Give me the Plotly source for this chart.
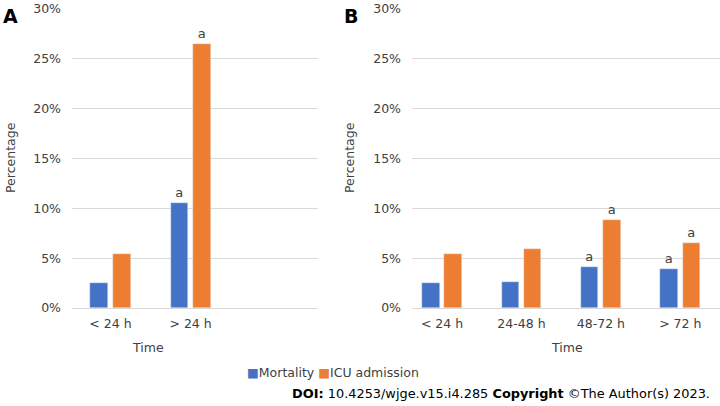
import plotly.graph_objects as go

# ---- data ----
cats_a = ["< 24 h", "> 24 h"]
mort_a = [0.025, 0.105]
icu_a = [0.054, 0.265]
mort_a_sig = ["", "a"]
icu_a_sig = ["", "a"]

cats_b = ["< 24 h", "24-48 h", "48-72 h", "> 72 h"]
mort_b = [0.025, 0.026, 0.0415, 0.039]
icu_b = [0.054, 0.059, 0.0885, 0.065]
mort_b_sig = ["", "", "a", "a"]
icu_b_sig = ["", "", "a", "a"]

yticks = [0, 0.05, 0.10, 0.15, 0.20, 0.25, 0.30]

BLUE = "#4472C4"
ORANGE = "#ED7D31"
TXT = "#404040"
FONT = "DejaVu Sans"
W, H = 720, 406

fig = go.Figure()

def add_bars(cats, mort, icu, msig, isig, xa, ya):
    fig.add_trace(go.Bar(x=cats, y=mort, name="Mortality", marker_color=BLUE,
                         width=0.22, offset=-0.25, text=msig, textposition="outside",
                         textfont=dict(color=TXT, size=13, family=FONT),
                         cliponaxis=False, xaxis=xa, yaxis=ya, showlegend=False))
    fig.add_trace(go.Bar(x=cats, y=icu, name="ICU admission", marker_color=ORANGE,
                         width=0.22, offset=0.03, text=isig, textposition="outside",
                         textfont=dict(color=TXT, size=13, family=FONT),
                         cliponaxis=False, xaxis=xa, yaxis=ya, showlegend=False))

add_bars(cats_a, mort_a, icu_a, mort_a_sig, icu_a_sig, "x", "y")
add_bars(cats_b, mort_b, icu_b, mort_b_sig, icu_b_sig, "x2", "y2")

ydom = [1 - 308 / H, 1 - 9 / H]
yax = dict(range=[0, 0.30], tickvals=yticks, tickformat=".0%", showgrid=True,
           gridcolor="#D9D9D9", gridwidth=1, zeroline=True, zerolinecolor="#D9D9D9",
           zerolinewidth=1, showline=False, ticks="", ticklabelstandoff=10,
           automargin=False,
           tickfont=dict(family=FONT, size=12.5, color=TXT), domain=ydom)
xax = dict(showgrid=False, zeroline=False, showline=False, ticks="",
           ticklabelstandoff=6, automargin=False,
           tickfont=dict(family=FONT, size=12.5, color=TXT))

fig.update_layout(
    width=W, height=H, margin=dict(l=0, r=0, t=0, b=0),
    paper_bgcolor="white", plot_bgcolor="white",
    font=dict(family=FONT, color=TXT),
    xaxis=dict(xax, domain=[72 / W, 318 / W], range=[-0.48, 2.59], anchor="y"),
    yaxis=dict(yax, anchor="x"),
    xaxis2=dict(xax, domain=[412 / W, 1.0], range=[-0.378, 3.5], anchor="y2"),
    yaxis2=dict(yax, anchor="x2"),
    bargap=0, showlegend=False,
)

def px(x, y):
    return x / W, 1 - y / H

anns = []
def ann(text, x, y, size, color=TXT, angle=0, xanchor="center"):
    ax, ay = px(x, y)
    anns.append(dict(text=text, x=ax, y=ay, xref="paper", yref="paper",
                     xanchor=xanchor, yanchor="middle", textangle=angle, showarrow=False,
                     font=dict(family=FONT, size=size, color=color)))

# panel letters
ann("<b>A</b>", 10, 16, 19, "black")
ann("<b>B</b>", 351, 16, 19, "black")
# y titles
ann("Percentage", 10, 158, 12.5, angle=-90)
ann("Percentage", 349, 158, 12.5, angle=-90)
# x titles
ann("Time", 148, 347, 12.5)
ann("Time", 567, 347, 12.5)
# legend
ann("<span style='color:%s'>■</span>Mortality <span style='color:%s'>■</span>ICU admission" % (BLUE, ORANGE),
    333, 372, 12.5)
# DOI
ann("<b>DOI:</b> 10.4253/wjge.v15.i4.285 <b>Copyright</b> ©The Author(s) 2023.",
    712, 393, 12.9, "black", xanchor="right")
fig.update_layout(annotations=anns)

fig.write_html("out.html")
